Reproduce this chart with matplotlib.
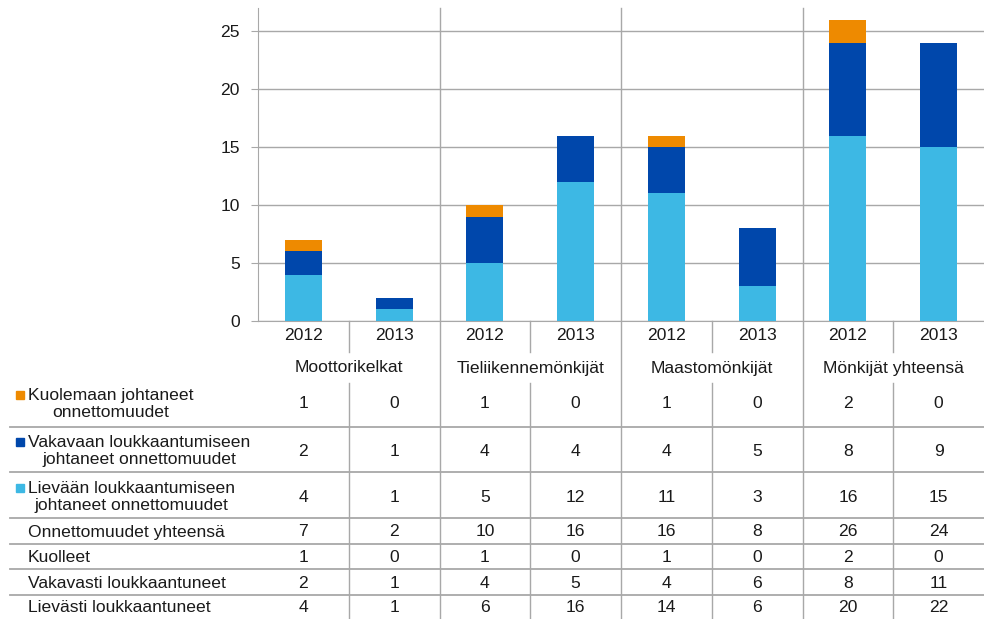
import numpy as np
import matplotlib
matplotlib.use("Agg")
import matplotlib.pyplot as plt
from matplotlib.lines import Line2D
from matplotlib import transforms

plt.rcParams["font.family"] = ["Liberation Sans", "DejaVu Sans"]

# ---------------------------------------------------------------
# Data
# ---------------------------------------------------------------
groups = ["Moottorikelkat", "Tieliikennemönkijät", "Maastomönkijät", "Mönkijät yhteensä"]
years = ["2012", "2013", "2012", "2013", "2012", "2013", "2012", "2013"]

kuolemaan = [1, 0, 1, 0, 1, 0, 2, 0]
vakavaan = [2, 1, 4, 4, 4, 5, 8, 9]
lievaan = [4, 1, 5, 12, 11, 3, 16, 15]
onnettomuudet = [7, 2, 10, 16, 16, 8, 26, 24]
kuolleet = [1, 0, 1, 0, 1, 0, 2, 0]
vakavasti = [2, 1, 4, 5, 4, 6, 8, 11]
lievasti = [4, 1, 6, 16, 14, 6, 20, 22]

series_labels = ["Kuolemaan johtaneet\nonnettomuudet",
                 "Vakavaan loukkaantumiseen\njohtaneet onnettomuudet",
                 "Lievään loukkaantumiseen\njohtaneet onnettomuudet"]
extra_labels = ["Onnettomuudet yhteensä", "Kuolleet",
                "Vakavasti loukkaantuneet", "Lievästi loukkaantuneet"]

c_orange, c_dark, c_light = "#EE8A00", "#0047AB", "#3DB8E4"
grid_c = "#A8A8A8"
txt_c = "#1A1A1A"
FS = 12.6

W, H = 984, 619
def fy(px):
    return 1 - px / H

fig = plt.figure(figsize=(W / 100, H / 100), dpi=100)
ax = fig.add_axes([258 / W, fy(321), 1 - 258 / W, (321 - 8) / H])

x = np.arange(len(years))
bw = 0.41
ax.bar(x, lievaan, bw, color=c_light, zorder=3)
ax.bar(x, vakavaan, bw, bottom=lievaan, color=c_dark, zorder=3)
bottom2 = np.array(lievaan) + np.array(vakavaan)
ax.bar(x, kuolemaan, bw, bottom=bottom2, color=c_orange, zorder=3)

ax.set_xlim(-0.5, 7.5)
ax.set_ylim(0, 27)
ax.set_yticks([0, 5, 10, 15, 20, 25])
ax.yaxis.grid(True, color=grid_c, lw=1)
ax.set_axisbelow(True)
ax.set_xticks([])
for s in ["top", "right"]:
    ax.spines[s].set_visible(False)
for s in ["left", "bottom"]:
    ax.spines[s].set_color(grid_c)
ax.tick_params(axis="y", length=5, color=grid_c, labelsize=FS, labelcolor=txt_c, pad=8)

blend = transforms.blended_transform_factory(ax.transData, fig.transFigure)

def vline(xd, y0, y1):
    fig.add_artist(Line2D([xd, xd], [fy(y0), fy(y1)], transform=blend,
                          color=grid_c, lw=1, clip_on=False))

# group separators full height
for xd in [1.5, 3.5, 5.5]:
    vline(xd, 8, H)
# year separators
for xd in [0.5, 2.5, 4.5, 6.5]:
    vline(xd, 321, 352)
    vline(xd, 383, H)

# year labels and group names
for i, yr in enumerate(years):
    fig.text(i, fy(336), yr, transform=blend, ha="center", va="center",
             fontsize=FS, color=txt_c)
for g, name in enumerate(groups):
    fig.text(2 * g + 0.5, fy(368), name, transform=blend, ha="center",
             va="center", fontsize=FS, color=txt_c)

# table horizontal lines
for ypx in [427, 472, 518, 544, 569, 595]:
    fig.add_artist(Line2D([10 / W, 1], [fy(ypx), fy(ypx)], transform=fig.transFigure,
                          color=grid_c, lw=1.3))

# table rows
rows = [kuolemaan, vakavaan, lievaan, onnettomuudet, kuolleet, vakavasti, lievasti]
row_y = [404, 451, 497, 532, 557, 583, 608]
for vals, ypx in zip(rows, row_y):
    for i, v in enumerate(vals):
        fig.text(i, fy(ypx), str(v), transform=blend, ha="center", va="center",
                 fontsize=FS, color=txt_c)

# legend labels with colour keys
for lab, col, ypx in zip(series_labels, [c_orange, c_dark, c_light], [404, 451, 497]):
    fig.text(28 / W, fy(ypx), lab, ha="left", va="center", multialignment="center",
             fontsize=FS, color=txt_c, linespacing=1.2)
    fig.patches.append(plt.Rectangle((16 / W, fy(ypx - 5)), 8 / W, 8 / H,
                                     transform=fig.transFigure, color=col))
for lab, ypx in zip(extra_labels, row_y[3:]):
    fig.text(28 / W, fy(ypx), lab, ha="left", va="center", fontsize=FS, color=txt_c)

plt.savefig("out.png", dpi=100)
